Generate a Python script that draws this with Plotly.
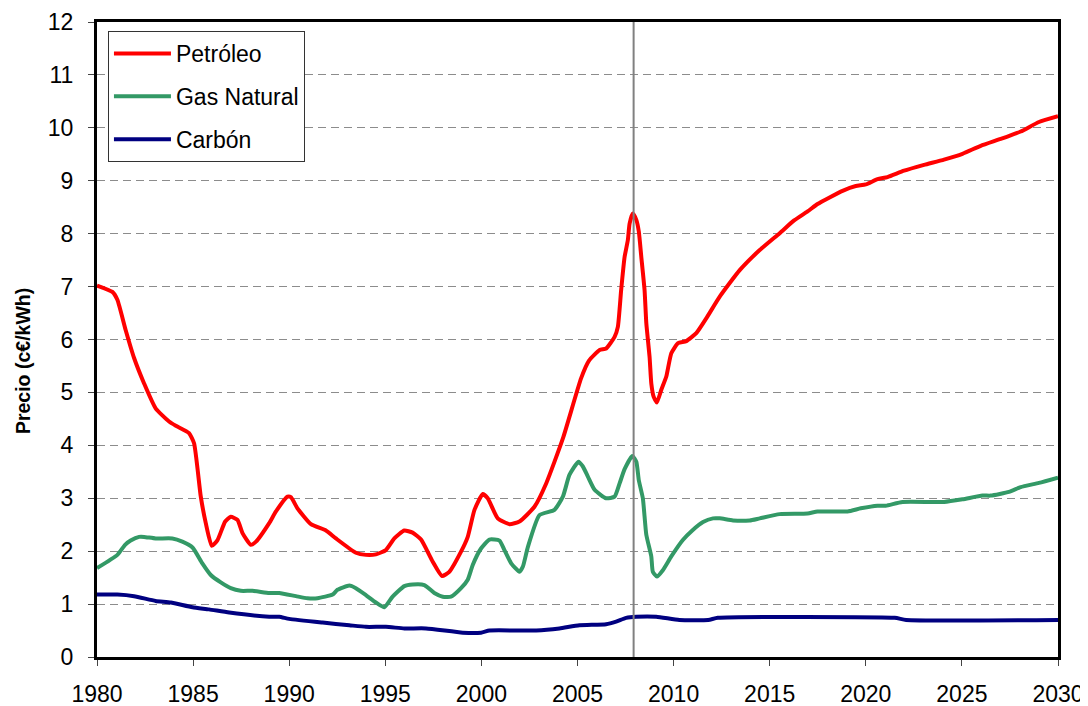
import plotly.graph_objects as go

# ---- Data ----
petroleo_years = [1980.0, 1980.8, 1981.06, 1981.49, 1981.93, 1982.45, 1983.05, 1983.75, 1984.1, 1984.79,
                  1985.05, 1985.4, 1985.66, 1985.97, 1986.27, 1986.67, 1986.96, 1987.31, 1987.57, 1988.0,
                  1988.27, 1988.96, 1989.31, 1989.91, 1990.09, 1990.43, 1991.13, 1991.91, 1992.43, 1993.47,
                  1993.99, 1994.51, 1995.03, 1995.47, 1995.99, 1996.42, 1996.86, 1997.47, 1997.95, 1998.33,
                  1998.94, 1999.29, 1999.64, 2000.07, 2000.33, 2000.85, 2001.46, 2001.98, 2002.76, 2003.37,
                  2004.24, 2005.19, 2005.6, 2006.15, 2006.49, 2006.93, 2007.1, 2007.27, 2007.45, 2007.62,
                  2007.71, 2007.88, 2008.06, 2008.19, 2008.32, 2008.49, 2008.58, 2008.75, 2008.84, 2008.96,
                  2009.13, 2009.36, 2009.62, 2009.88, 2010.23, 2010.66, 2011.18, 2011.7, 2012.4, 2013.44,
                  2014.48, 2015.52, 2016.27, 2016.97, 2017.49, 2018.09, 2018.79, 2019.48, 2020.0, 2020.61,
                  2021.13, 2021.99, 2023.03, 2024.07, 2025.03, 2025.98, 2027.02, 2028.06, 2029.01, 2030.0]
petroleo_values = [7.02, 6.90, 6.75, 6.18, 5.65, 5.17, 4.70, 4.45, 4.37, 4.23,
                   4.04, 3.03, 2.53, 2.10, 2.21, 2.56, 2.65, 2.59, 2.34, 2.12,
                   2.18, 2.53, 2.75, 3.03, 3.02, 2.81, 2.51, 2.39, 2.24, 1.97,
                   1.93, 1.94, 2.02, 2.24, 2.39, 2.35, 2.22, 1.80, 1.53, 1.61,
                   1.99, 2.27, 2.78, 3.08, 3.00, 2.62, 2.51, 2.56, 2.84, 3.28,
                   4.13, 5.27, 5.60, 5.80, 5.83, 6.05, 6.24, 6.93, 7.56, 7.88,
                   8.19, 8.38, 8.26, 8.04, 7.56, 6.93, 6.31, 5.67, 5.17, 4.92,
                   4.81, 5.05, 5.30, 5.74, 5.93, 5.97, 6.12, 6.40, 6.81, 7.31,
                   7.69, 8.01, 8.25, 8.42, 8.56, 8.68, 8.81, 8.90, 8.93, 9.03,
                   9.07, 9.19, 9.30, 9.40, 9.51, 9.66, 9.79, 9.93, 10.11, 10.22]

gas_years = [1980.0, 1981.06, 1981.46, 1981.75, 1982.19, 1982.45, 1983.05, 1983.92, 1984.44, 1984.97,
             1985.48, 1985.92, 1986.44, 1986.96, 1987.48, 1988.09, 1988.96, 1989.48, 1990.35, 1990.95,
             1991.47, 1992.26, 1992.51, 1993.13, 1993.47, 1993.99, 1994.51, 1994.95, 1995.38, 1995.99,
             1996.42, 1997.03, 1997.55, 1997.99, 1998.42, 1998.94, 1999.29, 1999.55, 1999.98, 2000.42,
             2000.94, 2001.2, 2001.55, 2001.98, 2002.16, 2002.42, 2003.02, 2003.8, 2004.24, 2004.58,
             2005.05, 2005.28, 2005.54, 2005.89, 2006.49, 2006.93, 2007.19, 2007.45, 2007.85, 2008.06,
             2008.19, 2008.4, 2008.58, 2008.84, 2008.92, 2009.13, 2009.44, 2009.88, 2010.48, 2011.0,
             2011.53, 2012.05, 2012.4, 2013.09, 2013.96, 2014.48, 2015.52, 2016.97, 2017.49, 2019.05,
             2019.74, 2020.61, 2021.04, 2021.91, 2024.07, 2025.03, 2026.07, 2026.5, 2027.45, 2028.06,
             2029.01, 2030.0]
gas_values = [1.68, 1.93, 2.12, 2.20, 2.27, 2.27, 2.24, 2.24, 2.18, 2.07,
              1.77, 1.55, 1.41, 1.30, 1.25, 1.25, 1.21, 1.21, 1.15, 1.11,
              1.11, 1.18, 1.27, 1.35, 1.30, 1.17, 1.03, 0.94, 1.14, 1.34,
              1.37, 1.36, 1.21, 1.14, 1.14, 1.30, 1.46, 1.74, 2.05, 2.22,
              2.20, 2.02, 1.77, 1.61, 1.71, 2.08, 2.68, 2.78, 3.03, 3.44,
              3.69, 3.60, 3.41, 3.16, 3.00, 3.03, 3.28, 3.55, 3.80, 3.69,
              3.34, 3.00, 2.31, 1.90, 1.61, 1.52, 1.64, 1.90, 2.21, 2.40,
              2.55, 2.62, 2.62, 2.58, 2.58, 2.62, 2.70, 2.71, 2.75, 2.75,
              2.81, 2.86, 2.86, 2.93, 2.93, 2.98, 3.05, 3.05, 3.12, 3.21,
              3.29, 3.39]

carbon_years = [1980.0, 1981.06, 1981.93, 1983.05, 1983.84, 1984.97, 1985.83, 1986.88, 1988.96, 1989.48,
                1990.0, 1991.74, 1993.13, 1993.99, 1995.03, 1995.99, 1997.12, 1999.03, 1999.98, 2000.42,
                2002.85, 2004.06, 2005.1, 2006.49, 2007.01, 2007.53, 2008.06, 2009.1, 2010.3, 2011.8,
                2012.3, 2021.5, 2022.1, 2030.0]
carbon_values = [1.18, 1.18, 1.15, 1.06, 1.03, 0.94, 0.90, 0.84, 0.76, 0.76,
                 0.72, 0.65, 0.60, 0.57, 0.57, 0.54, 0.54, 0.46, 0.46, 0.50,
                 0.50, 0.54, 0.60, 0.62, 0.67, 0.74, 0.76, 0.76, 0.70, 0.70,
                 0.74, 0.74, 0.70, 0.70]

series_names = ["Petróleo", "Gas Natural", "Carbón"]
series_colors = ["#FF0000", "#339966", "#000080"]
marker_year = 2007.92
x_ticks = [1980, 1985, 1990, 1995, 2000, 2005, 2010, 2015, 2020, 2025, 2030]
y_ticks = list(range(0, 13))
y_title = "Precio (c€/kWh)"

FONT = "Liberation Sans, Arial, sans-serif"

fig = go.Figure()

fig.add_shape(type="line", xref="x", yref="paper", x0=marker_year, x1=marker_year, y0=0, y1=1,
              line=dict(color="#808080", width=2), layer="above")

for name, xs, ys, col in zip(series_names,
                             [petroleo_years, gas_years, carbon_years],
                             [petroleo_values, gas_values, carbon_values],
                             series_colors):
    fig.add_trace(go.Scatter(x=xs, y=ys, mode="lines", name=name, legendgroup=name,
                             line=dict(color=col, width=4, shape="spline", smoothing=0.5)))

# y-axis title as rotated annotation (slightly below the plot centre, as in the reference)
fig.add_annotation(text="<b>" + y_title + "</b>", textangle=-90, showarrow=False,
                   xref="paper", yref="paper", x=0, y=0.466, xanchor="center", yanchor="middle",
                   xshift=-74, font=dict(family=FONT, size=19.5, color="black"))

# page body has an 8px margin, so the figure is 8px smaller and margins are offset
fig.update_layout(
    width=1080, height=698,
    margin=dict(l=89, r=30, t=14, b=49, autoexpand=False),
    paper_bgcolor="white", plot_bgcolor="white",
    font=dict(family=FONT, color="black", size=23),
    showlegend=True,
    legend=dict(x=0.0114, y=0.9858, xanchor="left", yanchor="top",
                bgcolor="white", bordercolor="#333333", borderwidth=1,
                font=dict(family=FONT, size=23, color="black"),
                tracegroupgap=10, itemwidth=57,
                indentation=0),
)

fig.update_xaxes(range=[1980, 2030], tickvals=x_ticks, ticktext=[str(t) for t in x_ticks],
                 showgrid=False, zeroline=False, automargin=False,
                 showline=True, linewidth=3, linecolor="black", mirror=True,
                 ticks="outside", ticklen=6, tickwidth=1, tickcolor="#444444",
                 tickfont=dict(family=FONT, size=23, color="black"),
                 ticklabelstandoff=8)
fig.update_yaxes(range=[0, 12], tickvals=y_ticks,
                 showgrid=True, gridcolor="#8c8c8c", gridwidth=1, griddash="8px,5px",
                 zeroline=False, automargin=False,
                 showline=True, linewidth=3, linecolor="black", mirror=True,
                 ticks="outside", ticklen=6, tickwidth=1, tickcolor="#444444",
                 tickfont=dict(family=FONT, size=23, color="black"),
                 ticklabelstandoff=10)

fig.write_html("out.html")
